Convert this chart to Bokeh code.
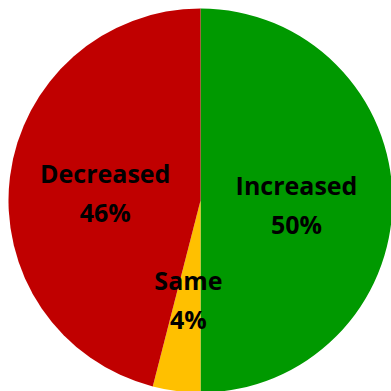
import numpy as np
from bokeh.plotting import figure
from bokeh.models import ColumnDataSource, Range1d
from bokeh.core.properties import value
from bokeh.embed import file_html
from bokeh.resources import INLINE

# Share of responses per category
categories = ["Increased", "Same", "Decreased"]
shares = [50, 4, 46]
colors = ["#009900", "#FFC000", "#C00000"]

W = H = 391
cx, cy, R = 200, 191, 192

frac = np.array(shares, dtype=float) / sum(shares)
cum_end = np.cumsum(frac)
cum_start = cum_end - frac
# slices run clockwise from 12 o'clock
start_angle = np.pi / 2 - 2 * np.pi * cum_end
end_angle = np.pi / 2 - 2 * np.pi * cum_start
mid = (start_angle + end_angle) / 2

# labels sit halfway out along each slice's middle, two lines around that point
lx = cx + 0.5 * R * np.cos(mid)
ly = cy - 4 + 0.5 * R * np.sin(mid)

src = ColumnDataSource(dict(
    start=start_angle, end=end_angle, color=colors,
    x=[cx] * 3, y=[cy] * 3,
    lx=lx, ly_name=ly + 19.5, ly_pct=ly - 19.5,
    name=categories, pct=[f"{round(s)}%" for s in shares],
))

p = figure(width=W, height=H, output_backend="svg", toolbar_location=None,
           x_range=Range1d(0, W), y_range=Range1d(0, H), min_border=0)
p.axis.visible = False
p.grid.visible = False
p.outline_line_color = None
p.background_fill_color = "white"
p.border_fill_color = "white"

p.wedge(x="x", y="y", radius=R, start_angle="start", end_angle="end",
        fill_color="color", line_color=None, source=src)

for col in ("name", "pct"):
    p.text(x="lx", y="ly_" + col, text=col, source=src,
           text_font=value("Open Sans"), text_font_style="bold",
           text_font_size="25px", text_color="black",
           text_align="center", text_baseline="middle")

open("out.html", "w").write(file_html(p, INLINE))
